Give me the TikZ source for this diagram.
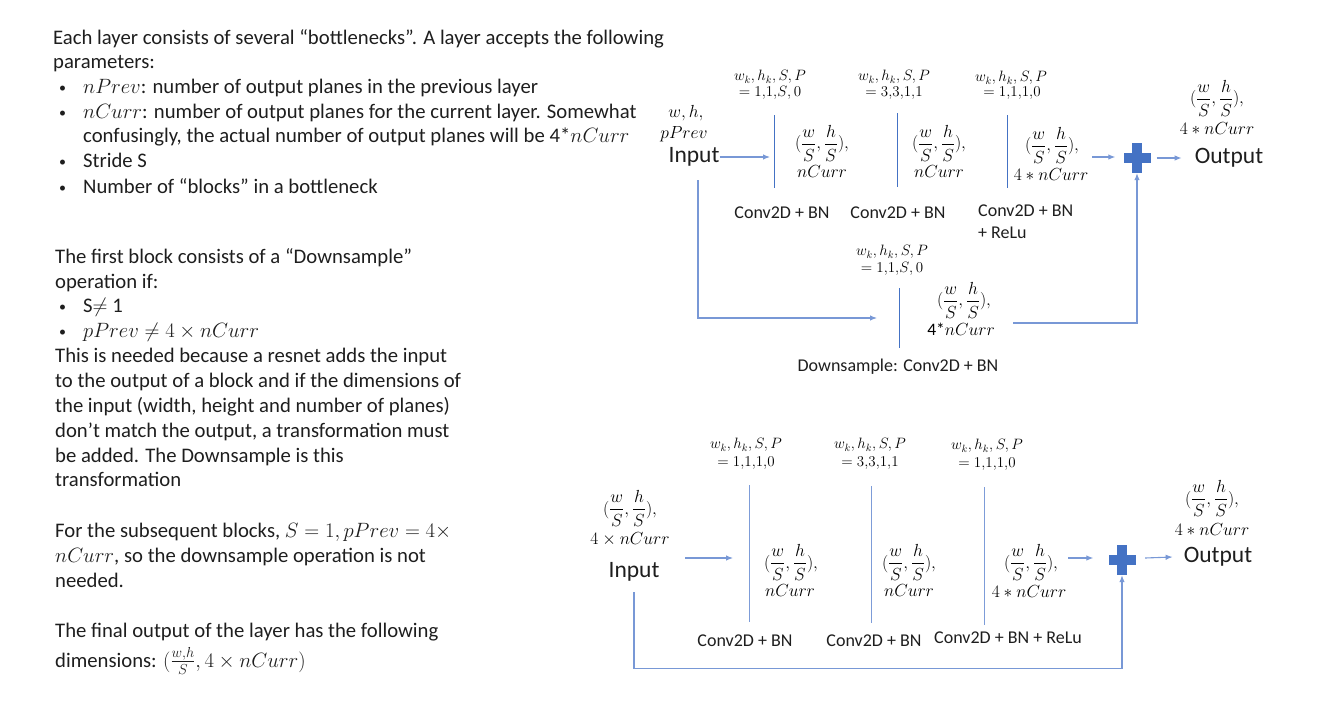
\RequirePackage{fix-cm}
\documentclass[tikz,border=0pt]{standalone}
\usepackage{amsmath}
\usepackage[no-math]{fontspec}
\setmainfont{Carlito}
\usetikzlibrary{arrows.meta,calc}
\definecolor{txt}{RGB}{30,30,30}
\definecolor{sep}{RGB}{68,114,196}
\definecolor{sepl}{RGB}{125,156,216}
\definecolor{con}{RGB}{120,152,214}
\definecolor{plusc}{RGB}{68,114,196}
\newcommand\fsz[2]{\fontsize{#1}{#2}\selectfont}
\newcommand\frc{$(\dfrac{w}{S},\dfrac{h}{S}),$}
\begin{document}
\begin{tikzpicture}[x=1pt,y=-1pt,
  body/.style={anchor=base west,inner sep=0,font=\fsz{20.7}{24},text=txt},
  bul/.style={anchor=base west,inner sep=0,font=\fsz{14}{16},text=txt},
  dlab/.style={inner sep=0,font=\fsz{18}{22},text=txt},
  io/.style={inner sep=0,font=\fsz{23.5}{28},text=txt},
  parm/.style={inner sep=0,font=\fsz{15}{16},text=black},
  mid/.style={inner sep=0,font=\fsz{17.5}{20},text=black},
  arr/.style={draw=con,line width=1.1pt,-{Latex[length=7pt,width=5.5pt]}},
  sepa/.style={draw=sep,line width=0.9pt},
  sepb/.style={draw=sepl,line width=1pt},
  plusn/.style={minimum width=27pt,minimum height=30pt,inner sep=0}]
\useasboundingbox (0,0) rectangle (1336,715);

% ---------- left text ----------
\node[body] (t1) at (53,44) {Each layer consists of several “bottlenecks”. A layer accepts the following};
\node[body] (t2) at (53,68.5) {parameters:};
\node[bul] (b1) at (59,92) {•};
\node[body] (t3) at (83,93) {$nPrev$: number of output planes in the previous layer};
\node[bul] (b2) at (59,117) {•};
\node[body] (t4) at (83,118) {$nCurr$: number of output planes for the current layer. Somewhat};
\node[body] (t5) at (83,142.5) {confusingly, the actual number of output planes will be 4*$nCurr$};
\node[bul] (b3) at (59,166.5) {•};
\node[body] (t6) at (83,167.5) {Stride S};
\node[bul] (b4) at (59,192) {•};
\node[body] (t7) at (83,193) {Number of “blocks” in a bottleneck};

\node[body] (t8) at (55,263) {The first block consists of a “Downsample”};
\node[body] (t9) at (55,288) {operation if:};
\node[bul] (b5) at (59,311) {•};
\node[body] (t10) at (83,312) {S$\neq$ 1};
\node[bul] (b6) at (59,336) {•};
\node[body] (t11) at (83,337) {$pPrev \neq 4\times nCurr$};
\node[body] (t12) at (55,362) {This is needed because a resnet adds the input};
\node[body] (t13) at (55,387) {to the output of a block and if the dimensions of};
\node[body] (t14) at (55,412) {the input (width, height and number of planes)};
\node[body] (t15) at (55,437) {don’t match the output, a transformation must};
\node[body] (t16) at (55,462) {be added. The Downsample is this};
\node[body] (t17) at (55,486) {transformation};

\node[body] (t18) at (55,537) {For the subsequent blocks, $S=1, pPrev=4\times$};
\node[body] (t19) at (55,562) {$nCurr$, so the downsample operation is not};
\node[body] (t20) at (55,587) {needed.};
\node[body] (t21) at (55,637) {The final output of the layer has the following};
\node[body] (t22) at (55,667) {dimensions: $(\frac{w,h}{S},4\times nCurr)$};

% ---------- top diagram ----------
\node[mid] (wh1) at (686,113) {$w,h,$};
\node[mid] (pp1) at (684,134) {$pPrev$};
\node[io] (in1) at (694,157) {Input};

\coordinate (l1a) at (774,115); \coordinate (l1b) at (774,188);
\coordinate (l2a) at (897,113); \coordinate (l2b) at (897,187);
\coordinate (l3a) at (1007,115); \coordinate (l3b) at (1007,188);
\draw[sepa] (l1a) -- (l1b);
\draw[sepa] (l2a) -- (l2b);
\draw[sepa] (l3a) -- (l3b);

\node[parm] (p1a) at (770,77) {$w_k,h_k,S,P$};
\node[parm] (p1b) at (770,93) {$=1{,}1{,}S{,}\,0$};
\node[parm] (p2a) at (894,77) {$w_k,h_k,S,P$};
\node[parm] (p2b) at (894,93) {$=3{,}3{,}1{,}1$};
\node[parm] (p3a) at (1011,78) {$w_k,h_k,S,P$};
\node[parm] (p3b) at (1012,93) {$=1{,}1{,}1{,}0$};

\node[mid] (m1a) at (822,143) {\frc};
\node[mid] (m1b) at (822,172) {$nCurr$};
\node[mid] (m2a) at (939,143) {\frc};
\node[mid] (m2b) at (939,172) {$nCurr$};
\node[mid] (m3a) at (1052,145) {\frc};
\node[mid] (m3b) at (1051,175) {$4\ast nCurr$};

\node[dlab] (c1) at (782,213) {Conv2D + BN};
\node[dlab] (c2) at (898,213) {Conv2D + BN};
\node[dlab,anchor=west] (c3) at (978,211) {Conv2D + BN};
\node[dlab,anchor=west] (c3b) at (978,233) {+ ReLu};

\node[plusn] (plus1) at (1137,158) {};
\fill[plusc] ($(plus1.center)+(-13.5,-5)$) rectangle ($(plus1.center)+(13.5,5)$);
\fill[plusc] ($(plus1.center)+(-5,-15)$) rectangle ($(plus1.center)+(5,15)$);

\node[io] (out1) at (1229,158) {Output};
\node[mid] (o1a) at (1217,98) {\frc};
\node[mid] (o1b) at (1217,129) {$4\ast nCurr$};

\draw[arr] (in1.east) -- ($(in1.east -| l1a)+(-4,0)$);
\draw[arr] ($(plus1.west)+(-31,-1)$) -- ($(plus1.west)+(-8,-1)$);
\draw[arr] ($(plus1.east)+(6,0)$) -- ($(out1.west)+(-13,0)$);

% downsample
\coordinate (dla) at (899,288); \coordinate (dlb) at (899,348);
\draw[sepa] (dla) -- (dlb);
\node[parm] (dpa) at (892,252) {$w_k,h_k,S,P$};
\node[parm] (dpb) at (892,269) {$=1{,}1{,}S{,}\,0$};
\node[mid] (dma) at (964,300) {\frc};
\node[mid] (dmb) at (961,329) {4*$nCurr$};
\node[dlab] (dsc) at (898,367) {Downsample: Conv2D + BN};
\coordinate (dsa) at (698,180);
\coordinate (dsb) at (877,318);
\coordinate (dso) at (1013,323);
\draw[arr] (dsa) |- (dsb);
\draw[arr] (dso) -| (plus1.south);

% ---------- bottom diagram ----------
\node[mid] (bia) at (630,508) {\frc};
\node[mid] (bib) at (630,539) {$4\times nCurr$};
\node[io] (bin) at (634,572) {Input};

\coordinate (bl1a) at (749,485); \coordinate (bl1b) at (749,622);
\coordinate (bl2a) at (871,486); \coordinate (bl2b) at (871,623);
\coordinate (bl3a) at (984,487); \coordinate (bl3b) at (984,625);
\draw[sepb] (bl1a) -- (bl1b);
\draw[sepb] (bl2a) -- (bl2b);
\draw[sepb] (bl3a) -- (bl3b);

\node[parm] (bp1a) at (746,445) {$w_k,h_k,S,P$};
\node[parm] (bp1b) at (746,463) {$=1{,}1{,}1{,}0$};
\node[parm] (bp2a) at (870,445) {$w_k,h_k,S,P$};
\node[parm] (bp2b) at (870,463) {$=3{,}3{,}1{,}1$};
\node[parm] (bp3a) at (987,446) {$w_k,h_k,S,P$};
\node[parm] (bp3b) at (987,464) {$=1{,}1{,}1{,}0$};

\node[mid] (bm1a) at (791,562) {\frc};
\node[mid] (bm1b) at (790,591) {$nCurr$};
\node[mid] (bm2a) at (909,562) {\frc};
\node[mid] (bm2b) at (909,591) {$nCurr$};
\node[mid] (bm3a) at (1031,562) {\frc};
\node[mid] (bm3b) at (1029,592) {$4\ast nCurr$};

\node[dlab] (bc1) at (745,641) {Conv2D + BN};
\node[dlab] (bc2) at (874,641) {Conv2D + BN};
\node[dlab] (bc3) at (1008,638) {Conv2D + BN + ReLu};

\node[plusn] (plus2) at (1122,560) {};
\fill[plusc] ($(plus2.center)+(-13.5,-5)$) rectangle ($(plus2.center)+(13.5,5)$);
\fill[plusc] ($(plus2.center)+(-5,-15)$) rectangle ($(plus2.center)+(5,15)$);

\node[io] (out2) at (1218,557) {Output};
\node[mid] (bo1a) at (1212,498) {\frc};
\node[mid] (bo1b) at (1212,530) {$4\ast nCurr$};

\coordinate (ba1) at (685,558); \coordinate (ba2) at (733,558);
\draw[arr] (ba1) -- (ba2);
\draw[arr] ($(plus2.west)+(-40,-2)$) -- ($(plus2.west)+(-15,-2)$);
\draw[arr] ($(plus2.east)+(9.5,-2)$) -- ($(out2.west)+(-11,0)$);
\coordinate (fb) at (634,592);
\draw[arr] (fb) |- ($(plus2.south)+(0,93)$) -- (plus2.south);
\end{tikzpicture}
\end{document}
